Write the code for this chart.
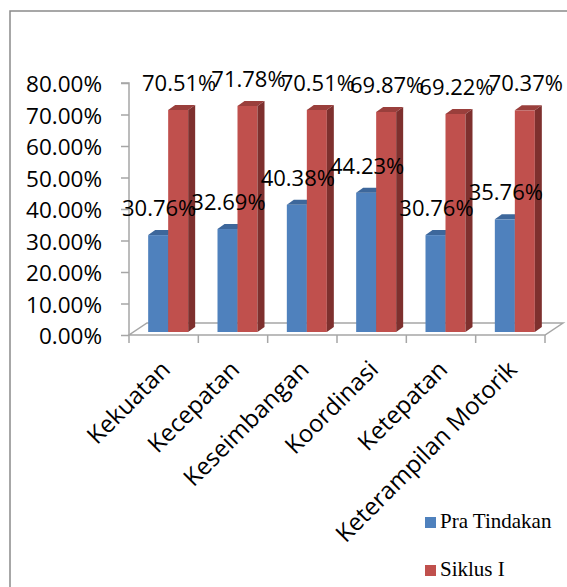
<!DOCTYPE html>
<html>
<head>
<meta charset="utf-8">
<script src="https://cdn.jsdelivr.net/npm/d3@7"></script>
<style>
  body { margin: 0; background: #fff; }
</style>
</head>
<body>
<div id="chartWrapper"></div>
<script>
// data
const categories = ["Kekuatan", "Kecepatan", "Keseimbangan", "Koordinasi", "Ketepatan", "Keterampilan Motorik"];
const praTindakan = [30.76, 32.69, 40.38, 44.23, 30.76, 35.76];
const siklusI = [70.51, 71.78, 70.51, 69.87, 69.22, 70.37];
const yTicks = [0, 10, 20, 30, 40, 50, 60, 70, 80];
const seriesNames = ["Pra Tindakan", "Siklus I"];

const colors = {
  front: ["#4f81bd", "#c0504d"],
  top: ["#3d679b", "#9a3f3c"],
  side: ["#365c8a", "#7e302e"],
};

const width = 567;
const height = 587;

// plot area (front plane of the 3d box)
const plot = { left: 129, right: 545, top: 83, bottom: 335 };
const floorDepth = { dx: 18, dy: -12 };
const barPlane = 0.25; // bars sit a quarter way back into the floor
const barDepth = { dx: 7, dy: -5 };
const barWidth = 20;

const wrapper = d3
  .select("#chartWrapper")
  .append("svg")
  .attr("width", width)
  .attr("height", height);

// chart frame (clipped by the page at right/bottom)
wrapper
  .append("rect")
  .attr("x", 10)
  .attr("y", 11)
  .attr("width", 620)
  .attr("height", 620)
  .attr("fill", "none")
  .attr("stroke", "#8a8a8a")
  .attr("stroke-width", 1.5);

const xScale = d3
  .scaleBand()
  .domain(categories)
  .range([plot.left, plot.right]);

const yScale = d3
  .scaleLinear()
  .domain([0, 80])
  .range([plot.bottom, plot.top]);

const offX = floorDepth.dx * barPlane;
const offY = floorDepth.dy * barPlane;

// floor
const floor = wrapper.append("g").attr("stroke", "#a6a6a6").attr("stroke-width", 1.5).attr("fill", "none");
floor
  .append("path")
  .attr(
    "d",
    `M${plot.left},${plot.bottom} L${plot.right},${plot.bottom} L${plot.right + floorDepth.dx},${plot.bottom + floorDepth.dy} L${plot.left + floorDepth.dx},${plot.bottom + floorDepth.dy} Z`
  );

// category tick marks
const catTicks = d3.range(categories.length + 1).map((i) => plot.left + i * xScale.step());
floor
  .selectAll("line.ctick")
  .data(catTicks)
  .enter()
  .append("line")
  .attr("x1", (d) => d)
  .attr("x2", (d) => d)
  .attr("y1", plot.bottom)
  .attr("y2", plot.bottom + 8);

// value axis
const yAxisGenerator = d3
  .axisLeft(yScale)
  .tickValues(yTicks)
  .tickSize(8)
  .tickFormat((d) => d.toFixed(2) + "%");
const yAxis = wrapper
  .append("g")
  .attr("transform", `translate(${plot.left},0)`)
  .call(yAxisGenerator);
yAxis.select(".domain").attr("stroke", "#a6a6a6").attr("stroke-width", 1.5).attr("d", `M-8,${plot.top}H0V${plot.bottom}`);
yAxis.selectAll(".tick line").attr("stroke", "#a6a6a6").attr("stroke-width", 1.5);
yAxis
  .selectAll(".tick text")
  .attr("x", -27)
  .attr("dy", "0.38em")
  .attr("fill", "#000")
  .style("font-family", "'Open Sans', sans-serif")
  .style("font-size", "22.5px");

// bars
const barData = [];
categories.forEach((c, i) => {
  [praTindakan[i], siklusI[i]].forEach((v, s) => {
    barData.push({ cat: c, series: s, value: v });
  });
});

const barsGroup = wrapper.append("g");

const barX = (d) => xScale(d.cat) + xScale.bandwidth() / 2 - barWidth + d.series * barWidth + offX;
const barTop = (d) => yScale(d.value) + offY;
const barBase = plot.bottom + offY;

const bar = barsGroup
  .selectAll("g.bar")
  .data(barData)
  .enter()
  .append("g")
  .attr("class", "bar");

bar
  .append("rect")
  .attr("x", barX)
  .attr("y", barTop)
  .attr("width", barWidth)
  .attr("height", (d) => barBase - barTop(d))
  .attr("fill", (d) => colors.front[d.series]);

bar
  .append("path")
  .attr("d", (d) => {
    const x = barX(d), y = barTop(d);
    return `M${x},${y} L${x + barDepth.dx},${y + barDepth.dy} L${x + barWidth + barDepth.dx},${y + barDepth.dy} L${x + barWidth},${y} Z`;
  })
  .attr("fill", (d) => colors.top[d.series]);

bar
  .append("path")
  .attr("d", (d) => {
    const x = barX(d) + barWidth, y = barTop(d);
    return `M${x},${y} L${x + barDepth.dx},${y + barDepth.dy} L${x + barDepth.dx},${barBase + barDepth.dy} L${x},${barBase} Z`;
  })
  .attr("fill", (d) => colors.side[d.series]);

// value labels
wrapper
  .append("g")
  .selectAll("text")
  .data(barData)
  .enter()
  .append("text")
  .attr("x", (d) => barX(d) + barWidth / 2 + 1)
  .attr("y", (d) => barTop(d) - 19)
  .attr("text-anchor", "middle")
  .style("font-family", "'Open Sans', sans-serif")
  .style("font-size", "22px")
  .text((d) => d.value.toFixed(2) + "%");

// category labels
wrapper
  .append("g")
  .selectAll("text")
  .data(categories)
  .enter()
  .append("text")
  .attr("transform", (d) => `translate(${xScale(d) + xScale.bandwidth() / 2 + 8},${plot.bottom + 36}) rotate(-45)`)
  .attr("text-anchor", "end")
  .style("font-family", "'Open Sans', sans-serif")
  .style("font-size", "24px")
  .text((d) => d);

// legend
const legend = wrapper
  .append("g")
  .selectAll("g")
  .data(seriesNames)
  .enter()
  .append("g")
  .attr("transform", (d, i) => `translate(425,${517 + i * 48})`);

legend
  .append("rect")
  .attr("width", 11)
  .attr("height", 11)
  .attr("fill", (d, i) => colors.front[i]);

legend
  .append("text")
  .attr("x", 15)
  .attr("y", 11)
  .style("font-family", "'Liberation Serif', 'Times New Roman', serif")
  .style("font-size", "21px")
  .text((d) => d);
</script>
</body>
</html>
